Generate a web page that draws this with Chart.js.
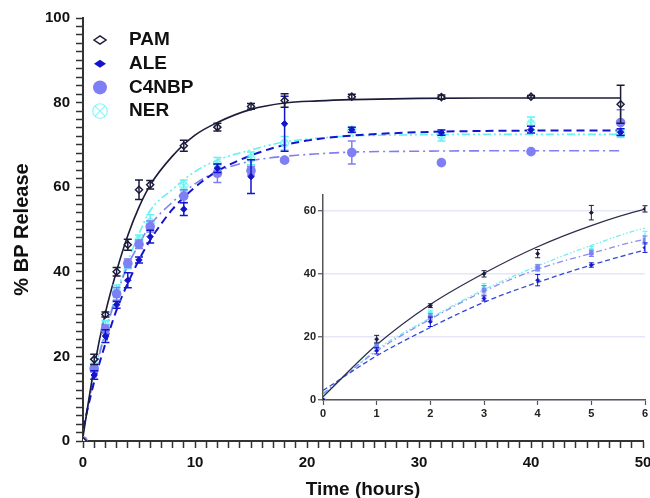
<!DOCTYPE html>
<html>
<head>
<meta charset="utf-8">
<script src="https://cdn.jsdelivr.net/npm/chart.js@4.4.0/dist/chart.umd.min.js"></script>
<style>
  html, body { margin: 0; padding: 0; background: #fff; }
  #wrap { position: relative; width: 650px; height: 498px; overflow: hidden; }
  #mainChart { position: absolute; left: 0; top: 0; }
  #insetChart { position: absolute; left: 280px; top: 180px; }
</style>
</head>
<body>
<div id="wrap">
  <canvas id="mainChart" width="650" height="498"></canvas>
  <canvas id="insetChart" width="370" height="250"></canvas>
</div>
<script>
const FONT = 'Arial, "Liberation Sans", sans-serif';

// measured points (hours)
const times = [0, 1, 2, 3, 4, 5, 6, 9, 12, 15, 18, 24, 32, 40, 48];
const seriesNames = ['PAM', 'ALE', 'C4NBP', 'NER'];

const pamMean = [0, 19.3, 29.9, 40.0, 46.4, 59.4, 60.6, 69.8, 74.2, 79.1, 80.5, 81.4, 81.3, 81.4, 79.6];
const pamErr  = [0, 1.2, 0.6, 1.0, 1.3, 2.3, 1.0, 1.3, 0.9, 0.7, 1.6, 0.6, 0.5, 0.3, 4.5];
const aleMean = [0, 15.6, 24.8, 32.2, 38.0, 42.8, 48.3, 54.8, 64.5, 62.5, 75.0, 73.6, 72.9, 73.6, 73.0];
const aleErr  = [0, 1.0, 1.5, 0.8, 1.8, 0.7, 1.5, 1.5, 1.0, 4.0, 6.5, 0.6, 0.6, 0.8, 0.8];
const c4Mean  = [0, 17.1, 26.4, 34.8, 42.0, 46.5, 50.7, 57.9, 63.3, 63.9, 66.4, 68.2, 65.8, 68.4, 75.3];
const c4Err   = [0, 0.8, 1.0, 1.5, 1.0, 1.0, 1.3, 1.5, 2.2, 1.0, 0.5, 2.7, 0, 0.4, 3.0];
const nerMean = [0, 17.4, 27.5, 35.4, 41.7, 47.5, 51.7, 60.4, 65.5, 66.8, 70.4, 73.5, 72.2, 75.0, 72.6];
const nerErr  = [0, 1.0, 1.0, 1.5, 1.0, 1.2, 1.8, 1.3, 1.5, 1.5, 1.6, 0.6, 1.3, 1.6, 0.8];

// fitted curves
const fitTimes = [0, 1, 2, 3, 4, 5, 6, 8, 10, 12, 15, 18, 21, 24, 30, 36, 42, 48];
const pamFit = [1, 17.5, 30.3, 40.2, 48.6, 55.3, 60.5, 67.4, 72.3, 75.3, 78.4, 79.9, 80.4, 80.7, 81.0, 81.1, 81.1, 81.1];
const aleFit = [3, 14.0, 23.0, 31.0, 37.3, 42.8, 47.5, 54.8, 60.0, 63.8, 67.5, 70.0, 71.4, 72.2, 73.0, 73.3, 73.4, 73.4];
const c4Fit  = [2, 15.5, 25.6, 34.5, 41.5, 46.5, 51.0, 56.5, 60.8, 63.7, 66.2, 67.3, 67.9, 68.3, 68.5, 68.6, 68.6, 68.6];
const nerFit = [1.5, 16.0, 26.0, 35.0, 42.5, 49.0, 54.5, 59.5, 63.7, 66.4, 68.8, 70.7, 71.6, 72.1, 72.4, 72.5, 72.5, 72.5];

// tick labels
const mainXLabels = [0, 10, 20, 30, 40, 50];
const mainYLabels = [0, 20, 40, 60, 80, 100];
const insetXLabels = [0, 1, 2, 3, 4, 5, 6];
const insetYLabels = [0, 20, 40, 60];

const colors = ['#1b1b3a', '#1414cc', '#7f7ff5', '#62f2f2'];
const insetLineColors = ['#2e2e4c', '#3348d6', '#8c8cf2', '#7aeeee'];
const dashes = [[], [8, 5], [10, 4, 2, 4], [8, 3, 2, 3, 2, 3]];
const insetDashes = [[], [5, 3], [6, 3, 1.5, 3], [5, 2, 1.5, 2, 1.5, 2]];
const means = [pamMean, aleMean, c4Mean, nerMean];
const errs = [pamErr, aleErr, c4Err, nerErr];
const fits = [pamFit, aleFit, c4Fit, nerFit];

function circleX(r, color, lw) {
  const c = document.createElement('canvas');
  const s = Math.ceil(r * 2 + lw * 2 + 1);
  c.width = c.height = s;
  const g = c.getContext('2d');
  g.strokeStyle = color;
  g.lineWidth = lw;
  g.beginPath();
  g.arc(s / 2, s / 2, r, 0, Math.PI * 2);
  g.stroke();
  const d = r * 0.7;
  g.beginPath();
  g.moveTo(s / 2 - d, s / 2 - d); g.lineTo(s / 2 + d, s / 2 + d);
  g.moveTo(s / 2 + d, s / 2 - d); g.lineTo(s / 2 - d, s / 2 + d);
  g.stroke();
  return c;
}

function buildDatasets(inset) {
  const sets = [];
  seriesNames.forEach((name, i) => {
    const pts = {
      label: name,
      data: times.map((t, j) => ({ x: t, y: means[i][j] })),
      errors: errs[i],
      borderColor: colors[i],
      backgroundColor: colors[i],
      showLine: false,
      order: 0
    };
    if (!inset) {
      if (i === 0) { pts.pointStyle = 'rectRot'; pts.radius = 3.5; pts.backgroundColor = '#fff'; pts.borderWidth = 1.5; }
      if (i === 1) { pts.pointStyle = 'rectRot'; pts.radius = 3.2; pts.borderWidth = 1; }
      if (i === 2) { pts.pointStyle = 'circle'; pts.radius = 4.8; pts.borderWidth = 0; }
      if (i === 3) { pts.pointStyle = circleX(3.8, colors[3], 1.2); }
    } else {
      pts.pointStyle = i < 2 ? 'rectRot' : 'rect';
      pts.radius = i < 2 ? 2 : 2.6;
      pts.borderWidth = 0.8;
    }
    const line = {
      label: name + ' fit',
      data: fitTimes.map((t, j) => ({ x: t, y: fits[i][j] })),
      borderColor: inset ? insetLineColors[i] : colors[i],
      borderWidth: inset ? 1.3 : (i === 1 ? 2 : 1.6),
      borderDash: inset ? insetDashes[i] : dashes[i],
      showLine: true,
      pointRadius: 0,
      cubicInterpolationMode: 'monotone',
      fill: false,
      order: 1
    };
    sets.push(line, pts);
  });
  return sets;
}

// error bars drawn right after each point dataset
const errorBars = {
  id: 'errorBars',
  afterDatasetDraw(chart, args, opts) {
    const ds = chart.data.datasets[args.index];
    if (!ds.errors) return;
    const { ctx } = chart;
    const x = chart.scales.x, y = chart.scales.y;
    ctx.save();
    ctx.strokeStyle = ds.borderColor;
    ctx.lineWidth = opts.lineWidth;
    ds.data.forEach((p, j) => {
      const e = ds.errors[j];
      if (!e || p.x > x.max) return;
      const px = x.getPixelForValue(p.x);
      const top = y.getPixelForValue(p.y + e);
      const bot = y.getPixelForValue(p.y - e);
      ctx.beginPath();
      ctx.moveTo(px, top); ctx.lineTo(px, bot);
      ctx.moveTo(px - opts.cap, top); ctx.lineTo(px + opts.cap, top);
      ctx.moveTo(px - opts.cap, bot); ctx.lineTo(px + opts.cap, bot);
      ctx.stroke();
    });
    ctx.restore();
  }
};

// legend in the upper left corner of the plot
const cornerLegend = {
  id: 'cornerLegend',
  afterDraw(chart) {
    const { ctx, chartArea } = chart;
    const mx = chartArea.left + 17;
    const tx = chartArea.left + 46;
    ctx.save();
    seriesNames.forEach((name, i) => {
      const cy = chartArea.top + 22 + i * 23.7;
      ctx.beginPath();
      if (i < 2) {
        ctx.moveTo(mx - 6, cy); ctx.lineTo(mx, cy - 4); ctx.lineTo(mx + 6, cy); ctx.lineTo(mx, cy + 4); ctx.closePath();
        if (i === 0) { ctx.fillStyle = '#fff'; ctx.fill(); ctx.strokeStyle = colors[0]; ctx.lineWidth = 1.5; ctx.stroke(); }
        else { ctx.fillStyle = colors[1]; ctx.fill(); }
      } else if (i === 2) {
        ctx.arc(mx, cy, 7, 0, Math.PI * 2);
        ctx.fillStyle = colors[2]; ctx.fill();
      } else {
        ctx.drawImage(circleX(7.3, '#7ff7f7', 1.1), mx - 9, cy - 9);
      }
      ctx.fillStyle = '#111';
      ctx.font = 'bold 19px ' + FONT;
      ctx.textBaseline = 'middle';
      ctx.textAlign = 'left';
      ctx.fillText(name, tx, cy);
    });
    ctx.restore();
  }
};

function stepTicks(max, step) {
  return s => { s.ticks = []; for (let v = 0; v <= max; v += step) s.ticks.push({ value: v }); };
}

const mainChart = new Chart(document.getElementById('mainChart'), {
  type: 'scatter',
  data: { datasets: buildDatasets(false) },
  plugins: [errorBars, cornerLegend],
  options: {
    responsive: false,
    animation: false,
    layout: { padding: { top: 18, right: 7, left: 0, bottom: 0 } },
    plugins: {
      legend: { display: false },
      tooltip: { enabled: false },
      errorBars: { lineWidth: 1.5, cap: 4 }
    },
    scales: {
      x: {
        type: 'linear', min: 0, max: 50,
        border: { color: '#333', width: 2 },
        grid: { drawOnChartArea: false, tickLength: 7, tickColor: '#333', tickWidth: 1.5 },
        ticks: {
          autoSkip: false, maxRotation: 0, padding: 6, color: '#111',
          font: { family: FONT, size: 15, weight: 'bold' },
          callback: v => mainXLabels.includes(v) ? String(v) : ''
        },
        title: { display: true, text: 'Time (hours)', color: '#111', padding: { top: 0, bottom: -3 },
                 font: { family: FONT, size: 19, weight: 'bold' } },
        afterBuildTicks: stepTicks(50, 1),
        afterFit: s => { s.height = 57; s.paddingLeft = 0; s.paddingRight = 0; }
      },
      y: {
        type: 'linear', min: 0, max: 100,
        border: { color: '#333', width: 2 },
        grid: { drawOnChartArea: false, tickLength: 7, tickColor: '#333', tickWidth: 1.5 },
        ticks: {
          autoSkip: false, padding: 6, color: '#111',
          font: { family: FONT, size: 15, weight: 'bold' },
          callback: v => mainYLabels.includes(v) ? String(v) : ''
        },
        title: { display: true, text: '% BP Release', color: '#111', padding: { top: 10, bottom: 0 },
                 font: { family: FONT, size: 20, weight: 'bold' } },
        afterBuildTicks: stepTicks(100, 2),
        afterFit: s => { s.width = 83; s.paddingTop = 0; s.paddingBottom = 0; }
      }
    }
  }
});

const insetChart = new Chart(document.getElementById('insetChart'), {
  type: 'scatter',
  data: { datasets: buildDatasets(true) },
  plugins: [errorBars],
  options: {
    responsive: false,
    animation: false,
    layout: { padding: { top: 15, right: 5, left: 0, bottom: 0 } },
    plugins: {
      legend: { display: false },
      tooltip: { enabled: false },
      errorBars: { lineWidth: 1, cap: 2.5 }
    },
    scales: {
      x: {
        type: 'linear', min: 0, max: 6,
        border: { color: '#555', width: 1.5 },
        grid: { drawOnChartArea: false, tickLength: 5, tickColor: '#555', tickWidth: 1.2 },
        ticks: { autoSkip: false, maxRotation: 0, padding: 2, color: '#222',
                 font: { family: FONT, size: 11, weight: 'bold' } },
        afterBuildTicks: s => { s.ticks = insetXLabels.map(v => ({ value: v })); },
        afterFit: s => { s.height = 30; s.paddingLeft = 0; s.paddingRight = 0; }
      },
      y: {
        type: 'linear', min: 0, max: 65,
        border: { color: '#555', width: 1.5 },
        grid: { color: '#e6e6fb', lineWidth: 1.5, tickLength: 5, tickColor: '#555', tickWidth: 1.2 },
        ticks: { autoSkip: false, padding: 2, color: '#222',
                 font: { family: FONT, size: 11, weight: 'bold' } },
        afterBuildTicks: s => { s.ticks = insetYLabels.map(v => ({ value: v })); },
        afterFit: s => { s.width = 43; s.paddingTop = 0; s.paddingBottom = 0; }
      }
    }
  }
});
</script>
</body>
</html>
